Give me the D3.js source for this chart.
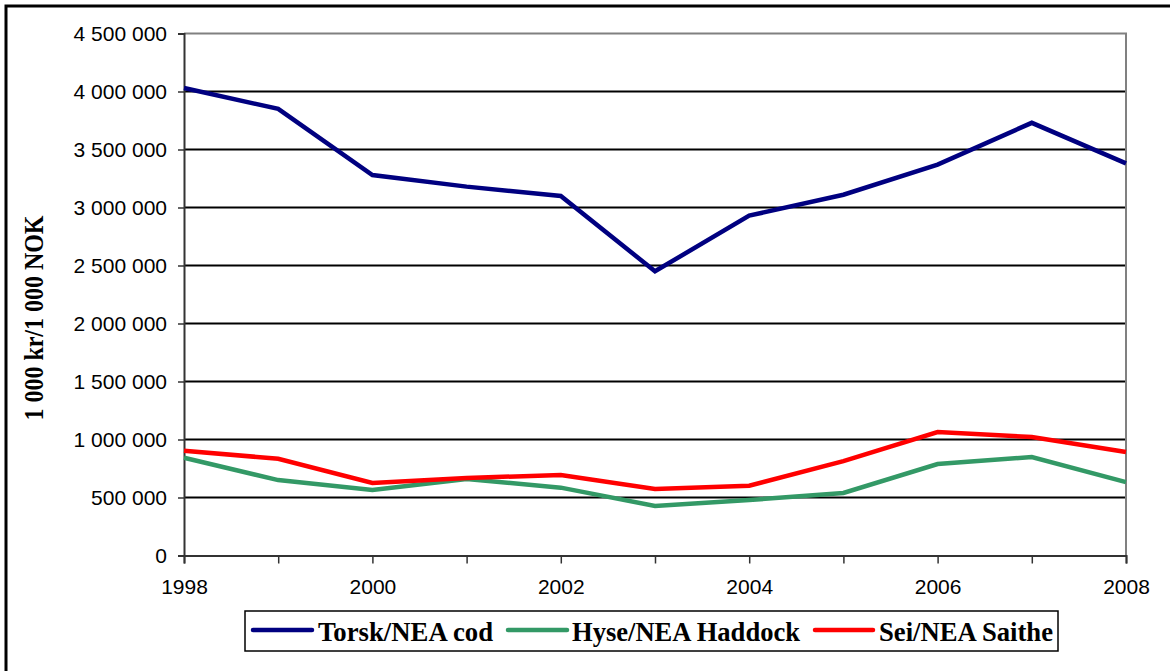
<!DOCTYPE html>
<html><head><meta charset="utf-8">
<script src="https://cdn.jsdelivr.net/npm/d3@7"></script>
<style>html,body{margin:0;padding:0;background:#fff;}</style>
</head><body>
<svg id="c" width="1170" height="671"></svg>
<script>
const years = [1998,1999,2000,2001,2002,2003,2004,2005,2006,2007,2008];
const cod = [4030000,3850000,3280000,3180000,3100000,2450000,2930000,3110000,3370000,3730000,3380000];
const haddock = [843000,650000,564000,659000,585000,427000,478000,539000,789000,849000,633000];
const saithe = [903000,834000,625000,668000,694000,573000,601000,814000,1064000,1021000,892000];
const seriesNames = ["Torsk/NEA cod","Hyse/NEA Haddock","Sei/NEA Saithe"];
const seriesColors = ["#000080","#339966","#FF0000"];
const yTicks = [0,500000,1000000,1500000,2000000,2500000,3000000,3500000,4000000,4500000];
const xTickLabels = [1998,2000,2002,2004,2006,2008];
const yTitle = "1 000 kr/1 000 NOK";

const svg = d3.select("#c");
const L=184, R=1126, T=33.5, B=555.5;
const x = d3.scaleLinear().domain([1998,2008]).range([L,R]);
const y = d3.scaleLinear().domain([0,4500000]).range([B,T]);
const fmt = v => d3.format(",")(v).replace(/,/g," ");

// outer frame
svg.append("rect").attr("x",6).attr("y",6).attr("width",1200).attr("height",720)
  .attr("fill","none").attr("stroke","#000").attr("stroke-width",3);

// gridlines
svg.append("g").selectAll("line").data(yTicks.filter(d=>d>0 && d<4500000)).join("line")
  .attr("x1",L).attr("x2",R).attr("y1",d=>y(d)).attr("y2",d=>y(d))
  .attr("stroke","#000").attr("stroke-width",2);
// plot border top/right gray
svg.append("path").attr("d",`M${L},${T}H${R}V${B}`).attr("fill","none").attr("stroke","#808080").attr("stroke-width",2);

// y axis
const ya = d3.axisLeft(y).tickValues(yTicks).tickSize(6).tickFormat(fmt);
const gy = svg.append("g").attr("transform",`translate(${L},0)`).call(ya);
gy.select(".domain").attr("stroke","#333").attr("stroke-width",2);
gy.selectAll(".tick line").attr("stroke","#333").attr("stroke-width",1.5);
gy.selectAll("text").attr("font-family","Arial, 'Liberation Sans', sans-serif").attr("font-size",21).attr("fill","#000").attr("x",-17).attr("dy","0.35em");

// x axis
const xa = d3.axisBottom(x).tickValues(years).tickSize(8).tickFormat(d=>xTickLabels.includes(d)?String(d):"");
const gx = svg.append("g").attr("transform",`translate(0,${B})`).call(xa);
gx.select(".domain").attr("stroke","#333").attr("stroke-width",2);
gx.selectAll(".tick line").attr("stroke","#333").attr("stroke-width",1.5);
gx.selectAll("text").attr("font-family","Arial, 'Liberation Sans', sans-serif").attr("font-size",21).attr("fill","#000").attr("y",24).attr("dy","0.71em");

// lines
const data = [cod,haddock,saithe];
const line = d3.line().x((d,i)=>x(years[i])).y(d=>y(d));
svg.append("g").selectAll("path").data([data[1],data[2],data[0]]).join("path")
  .attr("d",line).attr("fill","none")
  .attr("stroke",(d,i)=>[seriesColors[1],seriesColors[2],seriesColors[0]][i])
  .attr("stroke-width",4.5).attr("stroke-linejoin","miter");

// y title
svg.append("text").attr("transform","translate(43,318) rotate(-90)")
  .attr("text-anchor","middle").attr("font-family","'Times New Roman','Liberation Serif',serif")
  .attr("font-weight","bold").attr("font-size",27)
  .attr("textLength",205).attr("lengthAdjust","spacingAndGlyphs").text(yTitle);

// legend
const lg = svg.append("g");
lg.append("rect").attr("x",245).attr("y",611).attr("width",813).attr("height",40)
  .attr("fill","#fff").attr("stroke","#000").attr("stroke-width",1.5);
const legItems = [
  {s:253, e:312, tx:318, tw:175},
  {s:508, e:567, tx:572, tw:228},
  {s:815, e:873, tx:879, tw:174}
];
legItems.forEach((it,i)=>{
  lg.append("line").attr("x1",it.s).attr("x2",it.e).attr("y1",630).attr("y2",630)
    .attr("stroke",seriesColors[i]).attr("stroke-width",4.5).attr("stroke-linecap","round");
  lg.append("text").attr("x",it.tx).attr("y",641)
    .attr("font-family","'Times New Roman','Liberation Serif',serif").attr("font-weight","bold")
    .attr("font-size",28).attr("textLength",it.tw).attr("lengthAdjust","spacingAndGlyphs")
    .text(seriesNames[i]);
});
</script>
</body></html>
